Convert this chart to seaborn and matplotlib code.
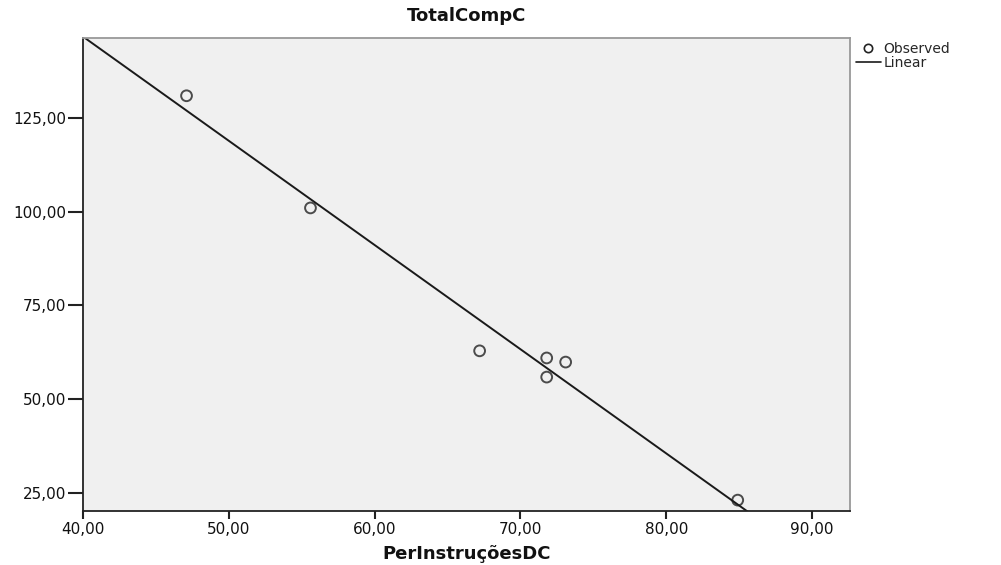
import numpy as np
import pandas as pd
import seaborn as sns
import matplotlib
matplotlib.use("Agg")
from matplotlib import pyplot as plt
from matplotlib.lines import Line2D
from matplotlib.ticker import FuncFormatter

# dados
per_instrucoes = [47.1, 55.6, 67.2, 71.8, 73.1, 71.8, 84.9]
total_comp = [130.9, 101.0, 62.9, 61.0, 59.9, 55.9, 23.1]
x_ticks = [40, 50, 60, 70, 80, 90]
y_ticks = [25, 50, 75, 100, 125]

df = pd.DataFrame({"PerInstruçõesDC": per_instrucoes, "TotalCompC": total_comp})

sns.set_style("white")
plt.rcParams["font.family"] = ["DejaVu Sans"]

fig = plt.figure(figsize=(10.01, 5.65), dpi=100)
ax = fig.add_axes([83 / 1001, 54 / 565, 767 / 1001, 473 / 565])
ax.set_facecolor("#f0f0f0")
ax.set_xlim(40, 92.6)
ax.set_ylim(20.2, 146.3)

# reta de regressão linear + pontos observados
sns.regplot(data=df, x="PerInstruçõesDC", y="TotalCompC", ax=ax, ci=None, truncate=False,
            scatter_kws=dict(s=60, facecolors="none", edgecolors="#222222", linewidths=1.4),
            line_kws=dict(color="#1a1a1a", lw=1.4))

ax.set_xticks(x_ticks)
ax.set_yticks(y_ticks)
fmt = FuncFormatter(lambda v, p: f"{v:.2f}".replace(".", ","))
ax.xaxis.set_major_formatter(fmt)
ax.yaxis.set_major_formatter(fmt)
ax.tick_params(axis="both", direction="out", width=1.5, color="#222222",
               labelsize=11, labelcolor="#111111", bottom=True, left=True)
ax.tick_params(axis="x", length=6, pad=2)
ax.tick_params(axis="y", length=11, pad=1)

for s in ["left", "bottom"]:
    ax.spines[s].set_color("#222222")
    ax.spines[s].set_linewidth(1.3)
for s in ["top", "right"]:
    ax.spines[s].set_color("#999999")
    ax.spines[s].set_linewidth(1.3)

ax.set_xlabel("PerInstruçõesDC", fontsize=13, fontweight="bold", labelpad=6, color="#111111")
ax.set_ylabel("")
ax.set_title("TotalCompC", fontsize=13, fontweight="bold", pad=12, color="#111111")

handles = [
    Line2D([], [], ls="none", marker="o", mfc="none", mec="#222222", ms=6, mew=1.2),
    Line2D([], [], color="#1a1a1a", lw=1.2),
]
fig.legend(handles, ["Observed", "Linear"], loc="upper left", bbox_to_anchor=(850 / 1001, 1 - 36 / 565),
           frameon=False, fontsize=10, handlelength=1.8, handletextpad=0.2, labelspacing=0.05,
           borderaxespad=0)

plt.savefig("out.png", dpi=100)
